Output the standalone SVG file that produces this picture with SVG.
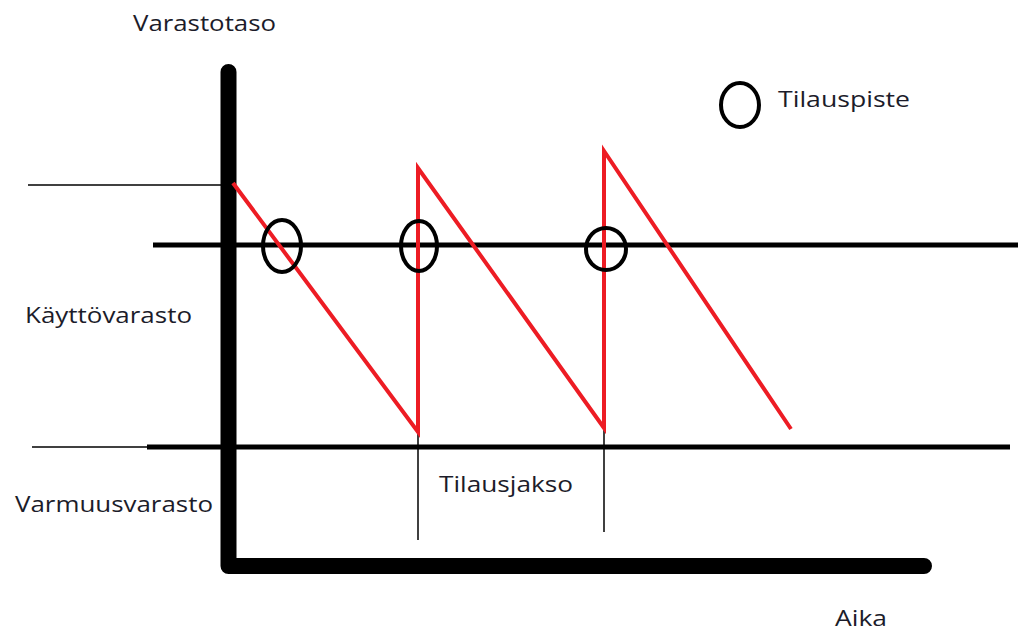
<svg xmlns="http://www.w3.org/2000/svg" width="1024" height="631" viewBox="0 0 1024 631">
<style>
.lbl{font-family:"Open Sans","Noto Sans","Liberation Sans",sans-serif;font-size:22px;fill:#1c1c2a}
.thin{stroke:#000;stroke-width:1.5;fill:none}
.thick{stroke:#000;stroke-width:5;fill:none}
.red{stroke:#ed1c24;stroke-width:4;fill:none;stroke-linejoin:miter}
.circ{stroke:#000;stroke-width:4;fill:none}
</style>
<rect width="1024" height="631" fill="#fff"/>
<g id="axes">
<path d="M228.5,72 V566 H924" stroke="#000" stroke-width="16" fill="none" stroke-linecap="round" stroke-linejoin="round"/>
</g>
<g id="connectors">
<line class="thin" x1="28" y1="185" x2="224" y2="185"/>
<line class="thick" x1="153" y1="245" x2="1018" y2="245"/>
<line class="thin" x1="32" y1="447" x2="148" y2="447"/>
<line class="thick" x1="147" y1="447" x2="1010" y2="447"/>
<line class="thin" x1="418" y1="432" x2="418" y2="540"/>
<line class="thin" x1="604" y1="428" x2="604" y2="532"/>
<polyline class="red" points="233,183 418,432 418,168 604,428 604,151 791,429"/>
</g>
<g id="tilauspisteet">
<ellipse class="circ" cx="282" cy="246" rx="19" ry="26"/>
<ellipse class="circ" cx="419" cy="246" rx="18" ry="25"/>
<ellipse class="circ" cx="606" cy="249" rx="20" ry="21"/>
</g>
<g id="legend">
<ellipse class="circ" cx="740" cy="105" rx="19" ry="22"/>
<text class="lbl" x="778" y="107" textLength="132" lengthAdjust="spacingAndGlyphs">Tilauspiste</text>
</g>
<g id="labels">
<text class="lbl" x="133" y="31" textLength="143" lengthAdjust="spacingAndGlyphs">Varastotaso</text>
<text class="lbl" x="25" y="323" textLength="167" lengthAdjust="spacingAndGlyphs">Käyttövarasto</text>
<text class="lbl" x="15" y="512" textLength="198" lengthAdjust="spacingAndGlyphs">Varmuusvarasto</text>
<text class="lbl" x="439" y="492" textLength="134" lengthAdjust="spacingAndGlyphs">Tilausjakso</text>
<text class="lbl" x="835" y="626" textLength="52" lengthAdjust="spacingAndGlyphs">Aika</text>
</g>
</svg>
